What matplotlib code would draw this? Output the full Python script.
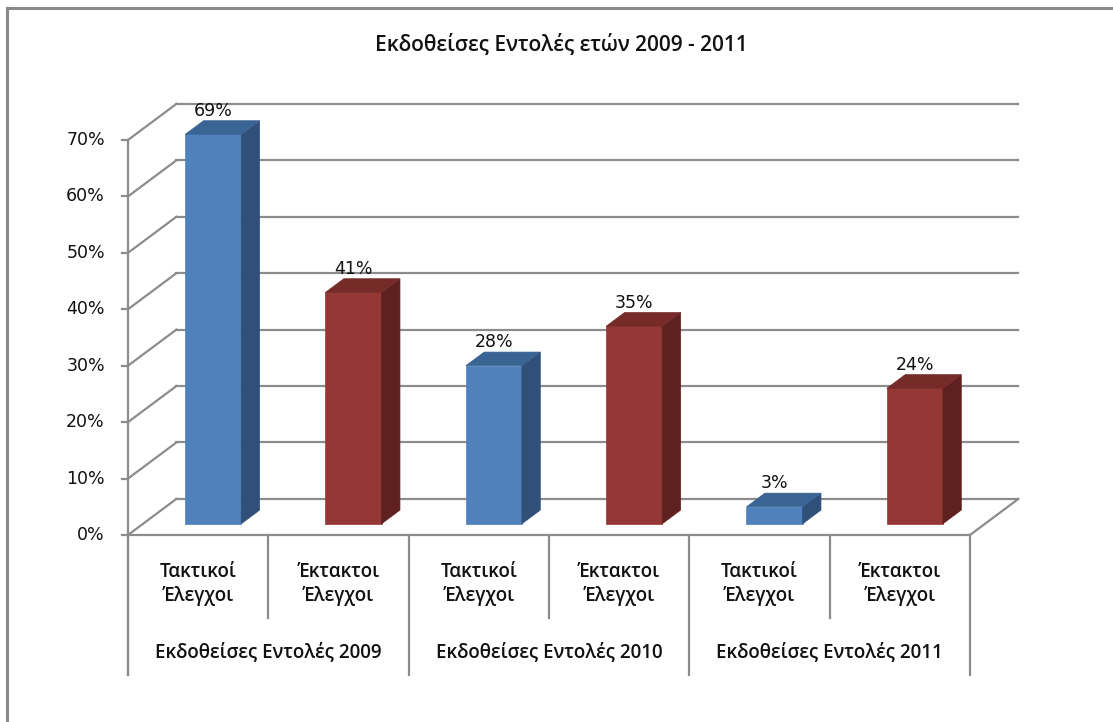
import matplotlib
import matplotlib.pyplot as plt
from matplotlib.lines import Line2D
from matplotlib.patches import Polygon

matplotlib.use("Agg")

title = "Εκδοθείσες Εντολές ετών 2009 - 2011"
groups = ["Εκδοθείσες Εντολές 2009", "Εκδοθείσες Εντολές 2010", "Εκδοθείσες Εντολές 2011"]
kinds = ["Τακτικοί\nΈλεγχοι", "Έκτακτοι\nΈλεγχοι"]
values = [69, 41, 28, 35, 3, 24]
y_ticks = [0, 10, 20, 30, 40, 50, 60, 70]

# face colours: front, side, top
BLUE = ("#4f81bd", "#2f5079", "#3a6494")
RED = ("#953735", "#5e2120", "#762b29")
GRID = "#8c8c8c"

# oblique projection of the floor depth (category units, percent units)
DX, DY = 0.345, 6.4
Z0, Z1 = 0.31, 0.69
BAR_W = 0.4

LABEL_FONT = "Open Sans"
NUM_FONT = "DejaVu Sans"


def proj(x, y, z):
    return (x + z * DX, y + z * DY)


fig = plt.figure(figsize=(11.13, 7.22), dpi=100)
ax = fig.add_axes([0, 0, 1, 1])
px_x, px_y = 140.33, 5.643
ax.set_xlim(-128 / px_x, (1113 - 128) / px_x)
ax.set_ylim(-(722 - 535) / px_y, 535 / px_y)
ax.axis("off")

n = len(values)
top = y_ticks[-1]

# back wall gridlines and left wall diagonals
for t in y_ticks:
    bx0, by = proj(0, t, 1)
    bx1, _ = proj(n, t, 1)
    ax.plot([bx0, bx1], [by, by], color=GRID, lw=1.6, zorder=1)
    ax.plot([0, bx0], [t, by], color=GRID, lw=1.6, zorder=1)
    ax.plot([-0.045, 0], [t, t], color=GRID, lw=1.6, zorder=1)
    ax.text(-0.165, t, f"{t}%", ha="right", va="center",
            fontsize=12.5, family=NUM_FONT, color="#111111")

# floor edges
fx, fy = proj(n, 0, 1)
ax.plot([0, n], [0, 0], color=GRID, lw=1.6, zorder=1)
ax.plot([n, fx], [0, fy], color=GRID, lw=1.6, zorder=1)

# front value axis running down into the category table
ax.plot([0, 0], [top, -24.8], color=GRID, lw=1.6, zorder=1)

# category table dividers
for i in range(n + 1):
    bottom = -24.8 if i % 2 == 0 else -14.7
    ax.plot([i, i], [0, bottom], color=GRID, lw=1.6, zorder=1)

for i, v in enumerate(values):
    front, side, topc = BLUE if i % 2 == 0 else RED
    x0 = i + 0.5 - BAR_W / 2
    x1 = i + 0.5 + BAR_W / 2
    faces = [
        ([proj(x0, 0, Z0), proj(x1, 0, Z0), proj(x1, v, Z0), proj(x0, v, Z0)], front),
        ([proj(x1, 0, Z0), proj(x1, 0, Z1), proj(x1, v, Z1), proj(x1, v, Z0)], side),
        ([proj(x0, v, Z0), proj(x1, v, Z0), proj(x1, v, Z1), proj(x0, v, Z1)], topc),
    ]
    for pts, c in faces:
        ax.add_patch(Polygon(pts, closed=True, facecolor=c, edgecolor=c,
                             lw=0.5, zorder=3))
    lx, _ = proj(i + 0.5, v, Z0)
    _, ly = proj(i + 0.5, v, Z1)
    ax.annotate(f"{v}%", (lx, ly), xytext=(0, 7), textcoords="offset points",
                ha="center", va="center", fontsize=12.5, family=NUM_FONT,
                color="#111111", zorder=4)
    ax.text(i + 0.5, -8.7, kinds[i % 2], ha="center", va="center",
            fontsize=13.5, family=LABEL_FONT, weight="semibold",
            color="#111111", linespacing=1.3)

for g, name in enumerate(groups):
    ax.text(2 * g + 1, -20.7, name, ha="center", va="center",
            fontsize=13.5, family=LABEL_FONT, weight="semibold", color="#111111")

ax.text(3.09, 86.8, title, ha="center", va="center",
        fontsize=15, family=LABEL_FONT, weight="semibold", color="#111111")

# chart area border (left and top edges)
fig.add_artist(Line2D([7 / 1113, 7 / 1113], [0, 1 - 8 / 722],
                      transform=fig.transFigure, color="#8a8a8a", lw=2.2))
fig.add_artist(Line2D([7 / 1113, 1], [1 - 8 / 722, 1 - 8 / 722],
                      transform=fig.transFigure, color="#8a8a8a", lw=2.2))

fig.savefig("out.png", dpi=100, facecolor="white")
